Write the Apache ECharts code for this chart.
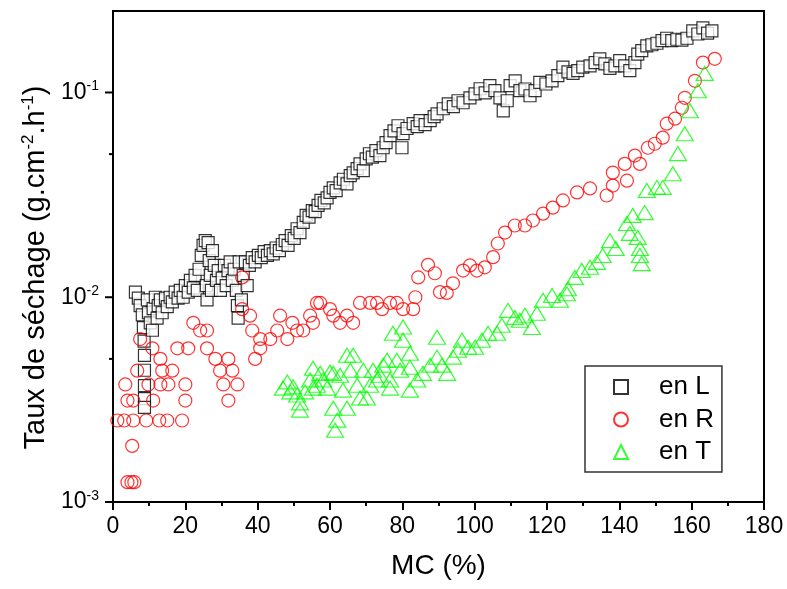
<!DOCTYPE html>
<html><head><meta charset="utf-8">
<script src="https://cdn.jsdelivr.net/npm/echarts@6/dist/echarts.min.js"></script>
<style>html,body{margin:0;padding:0;background:#fff}#c{width:787px;height:589px}</style>
</head><body><div id="c"></div>
<script>
// MC (%) , drying rate (g.cm-2.h-1)
const seriesL = [
[6.2,0.0106],[7.0,0.0099],[7.5,0.0091],[8.1,0.0082],[8.4,0.0071],[8.6,0.0061],[8.7,0.0052],[8.7,0.0044],[8.7,0.0037],[8.7,0.0032],[8.7,0.0029],
[9.5,0.0097],[9.8,0.0084],[10.3,0.0075],[10.9,0.0069],[11.1,0.0088],[11.7,0.0100],[12.2,0.0079],[12.5,0.0091],[13.1,0.0097],[13.6,0.0084],
[14.5,0.0099],[15.0,0.0090],[15.8,0.0100],[16.4,0.0095],[17.2,0.0106],[18.0,0.0099],[18.6,0.0108],[19.4,0.0100],[20.0,0.0114],[20.8,0.0106],
[21.4,0.0121],[22.2,0.0111],[22.7,0.0128],[23.3,0.0108],[23.8,0.0137],[24.4,0.0160],[24.9,0.0179],[25.5,0.0189],[25.8,0.0114],[26.0,0.0097],
[26.3,0.0185],[26.6,0.0151],[26.9,0.0128],[27.2,0.0108],[27.5,0.0169],[28.0,0.0143],[28.6,0.0121],[29.1,0.0135],[29.7,0.0108],[30.2,0.0124],
[30.8,0.0143],[31.3,0.0114],[31.8,0.0135],[32.4,0.0149],[33.0,0.0121],[33.5,0.0137],[34.1,0.0108],[34.4,0.0091],[34.6,0.0079],[34.9,0.0149],
[35.5,0.0097],[36.0,0.0128],[36.6,0.0149],[37.1,0.0114],[37.7,0.0143],[38.5,0.0156],[39.3,0.0149],[40.2,0.0160],[41.0,0.0156],[41.8,0.0167],
[42.7,0.0160],[43.5,0.0169],[44.3,0.0163],[45.1,0.0174],[46.0,0.0169],[46.8,0.0181],[47.6,0.0189],[48.4,0.0179],[49.3,0.0200],[50.1,0.0194],
[50.9,0.0216],[51.7,0.0207],[52.6,0.0232],[53.4,0.0251],[54.2,0.0246],[55.1,0.0265],[55.9,0.0262],[56.7,0.0281],[57.5,0.0297],[58.4,0.0289],
[59.2,0.0306],[60.0,0.0325],[60.9,0.0342],[61.7,0.0332],[62.8,0.0362],[63.7,0.0377],[64.7,0.0358],[65.6,0.0393],[66.4,0.0405],[67.5,0.0425],
[68.3,0.0448],[69.2,0.0415],[70.0,0.0474],[70.9,0.0502],[71.7,0.0483],[72.7,0.0520],[73.8,0.0492],[74.7,0.0537],[75.5,0.0569],[76.6,0.0615],
[77.7,0.0650],[78.8,0.0688],[79.9,0.0537],[80.2,0.0630],[81.3,0.0667],[83.0,0.0704],[84.1,0.0681],[84.9,0.0728],[86.3,0.0696],[87.7,0.0728],
[88.8,0.0762],[89.6,0.0786],[91.3,0.0833],[92.7,0.0880],[94.1,0.0853],[95.4,0.0911],[96.8,0.0891],[98.7,0.0942],[100.1,0.0985],[101.5,0.1043],
[102.9,0.0996],[104.2,0.108],[105.6,0.102],[107.0,0.0942],[107.9,0.0814],[109.0,0.0911],[109.8,0.108],[111.2,0.114],[112.5,0.102],[113.9,0.104],
[115.3,0.0964],[116.7,0.102],[118.0,0.112],[119.7,0.110],[121.4,0.114],[123.0,0.121],[124.4,0.133],[125.8,0.126],[127.2,0.124],[128.5,0.128],
[129.9,0.133],[131.9,0.135],[133.3,0.140],[134.6,0.146],[136.0,0.138],[137.4,0.131],[138.8,0.135],[140.1,0.143],[141.5,0.135],[142.9,0.128],
[144.3,0.140],[145.1,0.154],[146.2,0.160],[147.6,0.169],[149.0,0.171],[150.4,0.174],[151.8,0.179],[153.1,0.184],[154.5,0.179],[155.9,0.182],
[157.3,0.180],[158.7,0.184],[160.3,0.200],[161.7,0.193],[163.1,0.207],[164.4,0.195],[165.6,0.200]
];
const seriesR = [
[1.2,0.0025],[3.1,0.0025],[5.6,0.0025],[9.2,0.0025],[12.8,0.0025],[15.0,0.0025],[19.1,0.0025],
[3.4,0.00375],[9.8,0.00375],[13.1,0.00375],[15.3,0.00375],[20.0,0.00375],[30.5,0.00375],[34.4,0.00375],
[4.0,0.00313],[5.6,0.00313],[11.1,0.00313],[20.0,0.00313],[31.9,0.00313],
[5.3,0.00188],[4.0,0.00125],[5.1,0.00125],[5.9,0.00125],
[7.5,0.00625],[6.7,0.00438],[10.9,0.00563],[13.1,0.005],[13.6,0.00438],[16.4,0.00438],[17.8,0.00563],[20.8,0.00563],
[22.2,0.0075],[24.1,0.00688],[26.0,0.00688],[26.0,0.00563],[28.3,0.005],[29.6,0.00438],[31.9,0.005],[33.0,0.00438],
[35.7,0.0125],[35.7,0.00875],[37.9,0.00813],[38.5,0.00688],[39.3,0.005],[40.7,0.00563],[40.7,0.00625],[43.5,0.00625],
[45.4,0.00688],[46.2,0.00813],[48.2,0.00625],[49.6,0.0075],[50.9,0.00688],[52.6,0.00688],[54.5,0.00813],[55.3,0.0075],
[56.4,0.00938],[57.3,0.00938],[60.0,0.00875],[60.9,0.00813],[62.8,0.0075],[64.7,0.00813],[66.4,0.0075],[68.3,0.00938],
[71.1,0.00938],[73.0,0.00938],[74.4,0.00875],[76.6,0.00938],[78.5,0.00938],[80.2,0.00875],[83.0,0.00875],[83.6,0.01],
[84.4,0.0125],[87.1,0.0144],[89.0,0.0131],[90.4,0.0106],[92.3,0.0105],[94.0,0.0117],[96.8,0.0135],[98.7,0.0143],
[100.6,0.0135],[102.8,0.014],[105.1,0.0157],[106.4,0.0183],[108.4,0.0207],[111.1,0.0224],[113.9,0.0224],[116.1,0.0237],
[118.9,0.0256],[121.6,0.0274],[124.4,0.0297],[128.3,0.0325],[131.9,0.034],[136.5,0.0314],[138.2,0.0351],[138.2,0.0406],
[141.5,0.0448],[142.1,0.0371],[144.3,0.0492],[145.7,0.0448],[147.9,0.0537],[149.8,0.0562],[152.0,0.0602],[153.1,0.0704],
[155.4,0.0745],[157.3,0.0842],[158.1,0.0942],[160.9,0.114],[163.1,0.14],[166.4,0.146]
];
const seriesT = [
[47.0,0.0036],[48.2,0.00386],[49.0,0.00345],[49.8,0.00365],[50.9,0.00333],[51.7,0.00305],[51.7,0.00281],[53.1,0.00345],
[54.5,0.00394],[55.3,0.0045],[55.3,0.0036],[56.4,0.00372],[57.3,0.00425],[58.1,0.00394],[59.2,0.0036],[60.0,0.0043],
[60.9,0.00425],[60.9,0.00287],[61.4,0.00224],[62.0,0.00251],[62.8,0.00416],[63.6,0.00352],[64.7,0.00521],[64.7,0.00287],
[65.6,0.0044],[66.4,0.00521],[67.5,0.00372],[68.3,0.00322],[69.2,0.0044],[70.2,0.00322],[71.1,0.00372],[71.9,0.0044],
[73.0,0.00394],[73.8,0.00416],[74.7,0.00466],[75.8,0.00493],[76.6,0.00394],[76.6,0.0036],[77.4,0.00667],[78.5,0.00493],
[79.4,0.0044],[80.2,0.00715],[80.2,0.00617],[82.1,0.00533],[82.1,0.00455],[82.1,0.00352],[84.1,0.00394],[85.7,0.00425],
[87.7,0.00466],[89.6,0.00638],[89.6,0.0051],[91.0,0.00466],[92.4,0.00425],[94.0,0.0051],[95.4,0.00551],[96.5,0.00617],
[98.2,0.0057],[100.1,0.0057],[102.0,0.00617],[103.7,0.00667],[106.2,0.00667],[107.5,0.0073],[109.2,0.00863],[111.1,0.00797],
[112.5,0.00772],[113.9,0.00816],[115.8,0.00711],[117.2,0.00835],[118.9,0.00966],[121.4,0.0102],[123.6,0.00966],[125.5,0.0104],
[125.8,0.011],[127.7,0.0125],[129.6,0.0135],[131.9,0.014],[133.8,0.0148],[135.4,0.016],[137.4,0.0189],[139.0,0.0173],
[142.1,0.0229],[142.9,0.0205],[143.7,0.0251],[145.1,0.0196],[145.7,0.0173],[145.7,0.016],[146.2,0.0146],[147.0,0.0259],
[147.6,0.0332],[150.4,0.0344],[152.0,0.0344],[154.8,0.0401],[156.2,0.0503],[158.1,0.0629],[159.5,0.0814],[161.7,0.102],
[163.6,0.124]
];
const legendNames = ['en L', 'en R', 'en T'];
const yMajorTicks = [0.001, 0.01, 0.1];
const yMinorTicks = [0.005, 0.05];

const FONT = '"Liberation Sans", Arial, sans-serif';
const chart = echarts.init(document.getElementById('c'), null, {renderer: 'canvas'});
const yTickData = yMajorTicks.map(v => [0, v, 8]).concat(yMinorTicks.map(v => [0, v, 4]));

const option = {
  animation: false,
  backgroundColor: '#fff',
  grid: {left: 113, right: 23, top: 11, bottom: 87, show: true, borderColor: '#000', borderWidth: 2, backgroundColor: 'transparent'},
  legend: {
    data: legendNames, orient: 'vertical', left: 585, top: 366,
    padding: [8, 8, 7, 28], itemWidth: 14, itemHeight: 14, itemGap: 6.5,
    backgroundColor: '#fff', borderColor: '#333', borderWidth: 1.5, selectedMode: false,
    formatter: function (name) { return '{g|}' + name; },
    textStyle: {fontSize: 26, lineHeight: 26, color: '#000', fontFamily: FONT,
      rich: {g: {width: 26, fontSize: 26, lineHeight: 26}}}
  },
  xAxis: {
    type: 'value', min: 0, max: 180, interval: 20,
    axisLine: {onZero: false, lineStyle: {color: '#000', width: 2}},
    axisTick: {inside: false, length: 8, lineStyle: {color: '#000', width: 2}},
    minorTick: {show: true, splitNumber: 2, length: 4, lineStyle: {color: '#000', width: 2}},
    splitLine: {show: false},
    axisLabel: {fontSize: 23, color: '#000', fontFamily: FONT, margin: 13},
    name: 'MC (%)', nameLocation: 'middle', nameGap: 50,
    nameTextStyle: {fontSize: 28, color: '#000', fontFamily: FONT}
  },
  yAxis: {
    type: 'log', logBase: 10, min: 0.001, max: 0.25,
    axisLine: {show: true, onZero: false, lineStyle: {color: '#000', width: 2}},
    axisTick: {show: false},
    splitLine: {show: false},
    axisLabel: {
      margin: 14,
      formatter: function (v) {
        const e = Math.log10(v); const r = Math.round(e);
        if (Math.abs(e - r) > 1e-6) return '';
        return '{b|10}{s|' + r + '}';
      },
      rich: {
        b: {fontSize: 23, color: '#000', fontFamily: FONT},
        s: {fontSize: 14, color: '#000', fontFamily: FONT, padding: [0, 0, 12, 0]}
      }
    },
    name: '{t|Taux de séchage (g.cm}{s|-2}{t|.h}{s|-1}{t|)}',
    nameLocation: 'middle', nameRotate: 90, nameGap: 58,
    nameTextStyle: {
      padding: [0, 22, 0, 0],
      rich: {
        t: {fontSize: 29, color: '#000', fontFamily: FONT},
        s: {fontSize: 17, color: '#000', fontFamily: FONT, padding: [0, 0, 14, 0]}
      }
    }
  },
  series: [
    {name: 'en L', type: 'scatter', data: seriesL, symbol: 'rect', symbolSize: 12,
     itemStyle: {color: '#fff', borderColor: '#000', borderWidth: 1.2}, z: 2},
    {name: 'en R', type: 'scatter', data: seriesR, symbol: 'circle', symbolSize: 13,
     itemStyle: {color: 'rgba(255,255,255,0)', borderColor: '#ff0000', borderWidth: 1.2}, z: 3},
    {name: 'en T', type: 'scatter', data: seriesT, symbol: 'triangle', symbolSize: [17, 14],
     itemStyle: {color: 'rgba(255,255,255,0)', borderColor: '#00ff00', borderWidth: 1.2}, z: 4},
    {type: 'custom', silent: true, clip: false, data: yTickData, z: 10,
     renderItem: function (params, api) {
       const p = api.coord([api.value(0), api.value(1)]);
       const len = api.value(2);
       return {type: 'line', shape: {x1: p[0] - len, y1: p[1], x2: p[0], y2: p[1]}, style: {stroke: '#000', lineWidth: 2}};
     }}
  ]
};
chart.setOption(option);
</script>
</body></html>
